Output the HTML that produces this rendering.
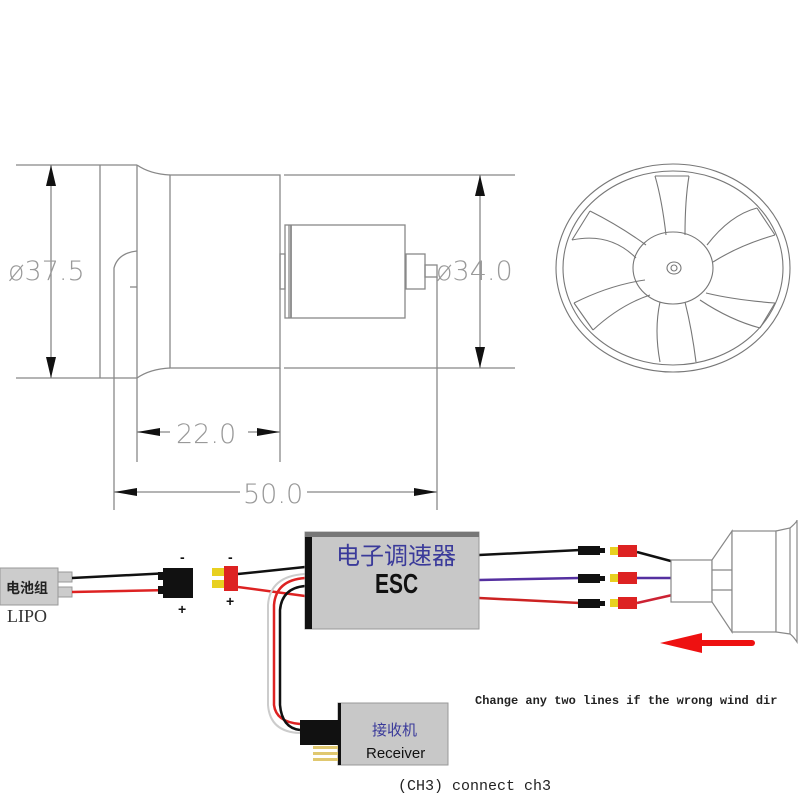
<!DOCTYPE html>
<html><head><meta charset="utf-8"><style>
body{margin:0;background:#fff}
svg{display:block}
</style></head><body>
<svg width="800" height="800" viewBox="0 0 800 800" xmlns="http://www.w3.org/2000/svg">
<rect width="800" height="800" fill="#fff"/>
<g stroke="#888" stroke-width="1.3" fill="none">
<line x1="16" y1="165" x2="137" y2="165"/>
<line x1="16" y1="378" x2="137" y2="378"/>
<line x1="100" y1="165" x2="100" y2="378"/>
<line x1="137" y1="165" x2="137" y2="462"/>
<path d="M137 165 Q150 174 170 175"/>
<path d="M137 378 Q150 369 170 368"/>
<rect x="170" y="175" width="110" height="193"/>
<line x1="280" y1="368" x2="280" y2="462"/>
<line x1="284" y1="175" x2="515" y2="175"/>
<line x1="284" y1="368" x2="515" y2="368"/>
<rect x="285" y="225" width="120" height="93"/>
<line x1="289" y1="225" x2="289" y2="318"/>
<line x1="291" y1="225" x2="291" y2="318" stroke-width="1.8"/>
<rect x="280" y="254" width="5" height="35"/>
<rect x="406" y="254" width="19" height="35"/>
<rect x="425" y="265" width="12" height="12"/>
<line x1="437" y1="277" x2="437" y2="510"/>
<path d="M137 251 Q118 253 114 268 L114 510"/>
<line x1="137" y1="287" x2="130" y2="287"/>
<line x1="51" y1="165" x2="51" y2="378"/>
<line x1="480" y1="175" x2="480" y2="368"/>
<line x1="137" y1="432" x2="170" y2="432"/><line x1="248" y1="432" x2="280" y2="432"/>
<line x1="114" y1="492" x2="240" y2="492"/><line x1="307" y1="492" x2="437" y2="492"/>
</g>
<g fill="#111">
<polygon points="51,165 46,186 56,186"/><polygon points="51,378 46,357 56,357"/>
<polygon points="480,175 475,196 485,196"/><polygon points="480,368 475,347 485,347"/>
<polygon points="137,432 160,428 160,436"/><polygon points="280,432 257,428 257,436"/>
<polygon points="114,492 137,488 137,496"/><polygon points="437,492 414,488 414,496"/>
</g>
<g fill="#999" font-family="DejaVu Sans, sans-serif" font-size="27" font-weight="200">
<text x="8" y="280">ø37.5</text>
<text x="436" y="280">ø34.0</text>
<text x="176" y="443">22.0</text>
<text x="243" y="503">50.0</text>
</g>
<g stroke="#777" stroke-width="1.1" fill="none">
<ellipse cx="673" cy="268" rx="117" ry="104"/>
<ellipse cx="673" cy="268" rx="110" ry="97"/>
<ellipse cx="673" cy="268" rx="40" ry="36"/>
<ellipse cx="674" cy="268" rx="7" ry="6"/>
<circle cx="674" cy="268" r="3"/>
<path d="M655 176 Q662 200 666 235 M689 176 Q685 200 685 235 M655 176 L689 176"/>
<path d="M660 302 Q654 330 660 362 M685 302 Q692 330 696 362"/>
<path d="M572 240 Q610 232 636 258 M590 211 Q620 226 646 245 M572 240 L590 211"/>
<path d="M574 303 Q610 285 645 280 M593 330 Q620 305 650 295 M574 303 L593 330"/>
<path d="M707 245 Q730 215 757 208 M713 262 Q740 245 775 235 M757 208 L775 235"/>
<path d="M706 293 Q735 300 775 303 M700 300 Q730 320 760 328 M775 303 L760 328"/>
</g>
<rect x="0" y="568" width="58" height="37" fill="#ccc" stroke="#999"/>
<rect x="58" y="572" width="14" height="10" fill="#ccc" stroke="#999"/>
<rect x="58" y="587" width="14" height="10" fill="#ccc" stroke="#999"/>
<text x="6" y="593" font-family="Liberation Sans, Noto Sans CJK SC, sans-serif" font-size="14" font-weight="bold" fill="#222">电池组</text>
<text x="7" y="622" font-family="Liberation Serif, serif" font-size="18" fill="#333">LIPO</text>
<g fill="none" stroke-width="2.5">
<path d="M72 578 L170 573" stroke="#111"/>
<path d="M72 592 L170 590" stroke="#d22"/>
<path d="M238 574 L305 567" stroke="#111"/>
<path d="M238 587 L305 596" stroke="#d22"/>
<path d="M479 555 L580 550" stroke="#111"/>
<path d="M479 580 L580 578" stroke="#5530a0"/>
<path d="M479 598 L580 603" stroke="#c22"/>
<path d="M637 552 L712 572" stroke="#111"/>
<path d="M637 578 L712 578" stroke="#5530a0"/>
<path d="M637 603 L712 586" stroke="#c23"/>
<path d="M305 574 Q270 576 268 605 L268 705 Q270 732 300 733" stroke="#ccc" stroke-width="2"/>
<path d="M305 578 Q276 580 274 605 L274 705 Q276 722 300 724" stroke="#d22"/>
<path d="M305 586 Q282 588 280 610 L280 705 Q282 728 300 730" stroke="#111"/>
</g>
<rect x="163" y="568" width="30" height="30" fill="#111"/>
<rect x="158" y="572" width="6" height="8" fill="#111"/><rect x="158" y="586" width="6" height="8" fill="#111"/>
<rect x="212" y="568" width="12" height="8" fill="#e8d020"/><rect x="212" y="580" width="12" height="8" fill="#e8d020"/>
<rect x="224" y="566" width="14" height="25" fill="#d22"/>
<g font-family="Liberation Sans, sans-serif" font-weight="bold" font-size="14" fill="#111">
<text x="180" y="562">-</text><text x="178" y="614">+</text>
<text x="228" y="562">-</text><text x="226" y="606">+</text>
</g>
<rect x="305" y="532" width="174" height="97" fill="#c8c8c8" stroke="#999"/>
<rect x="305" y="532" width="174" height="5" fill="#777"/>
<rect x="305" y="537" width="7" height="92" fill="#111"/>
<text x="336" y="564" font-family="Liberation Sans, Noto Sans CJK SC, sans-serif" font-size="24" fill="#3a3a9a">电子调速器</text>
<text transform="translate(375 593) scale(0.75 1)" font-family="Liberation Sans, sans-serif" font-size="28" font-weight="bold" fill="#111">ESC</text>
<g>
<rect x="578" y="546" width="22" height="9" fill="#111"/><rect x="598" y="548" width="7" height="5" fill="#111"/>
<rect x="578" y="574" width="22" height="9" fill="#111"/><rect x="598" y="576" width="7" height="5" fill="#111"/>
<rect x="578" y="599" width="22" height="9" fill="#111"/><rect x="598" y="601" width="7" height="5" fill="#111"/>
<rect x="610" y="547" width="8" height="8" fill="#e8d020"/><rect x="618" y="545" width="19" height="12" fill="#d22"/>
<rect x="610" y="574" width="8" height="8" fill="#e8d020"/><rect x="618" y="572" width="19" height="12" fill="#d22"/>
<rect x="610" y="599" width="8" height="8" fill="#e8d020"/><rect x="618" y="597" width="19" height="12" fill="#d22"/>
</g>
<g stroke="#888" stroke-width="1.2" fill="#fff">
<rect x="671" y="560" width="41" height="42"/>
<path d="M712 560 L732 531 L732 632 L712 602 Z"/>
<line x1="712" y1="570" x2="732" y2="570"/><line x1="712" y1="590" x2="732" y2="590"/>
<rect x="732" y="531" width="44" height="101"/>
<path d="M776 531 L790 528 Q797 522 797 520 L797 642 Q793 636 790 634 L776 632 Z"/>
<line x1="790" y1="528" x2="790" y2="634"/>
</g>
<path d="M700 643 L752 643" stroke="#e11" stroke-width="6" stroke-linecap="round"/>
<polygon points="660,643 702,633 702,653" fill="#e11"/>
<rect x="338" y="703" width="110" height="62" fill="#c8c8c8" stroke="#999"/>
<rect x="338" y="703" width="3" height="62" fill="#111"/>
<rect x="300" y="720" width="38" height="25" fill="#111"/>
<rect x="313" y="746" width="25" height="3" fill="#e0c870"/><rect x="313" y="752" width="25" height="3" fill="#e0c870"/><rect x="313" y="758" width="25" height="3" fill="#e0c870"/>
<text x="372" y="735" font-family="Liberation Sans, Noto Sans CJK SC, sans-serif" font-size="15" fill="#3a3a9a">接收机</text>
<text x="366" y="758" font-family="Liberation Sans, sans-serif" font-size="15" fill="#111">Receiver</text>
<text x="475" y="704" font-family="Liberation Mono, monospace" font-size="12" font-weight="bold" fill="#222">Change any two lines if the wrong wind dir</text>
<text x="398" y="790" font-family="Liberation Mono, Noto Sans CJK SC, monospace" font-size="15" fill="#222">(CH3) connect ch3</text>
</svg>
</body></html>
